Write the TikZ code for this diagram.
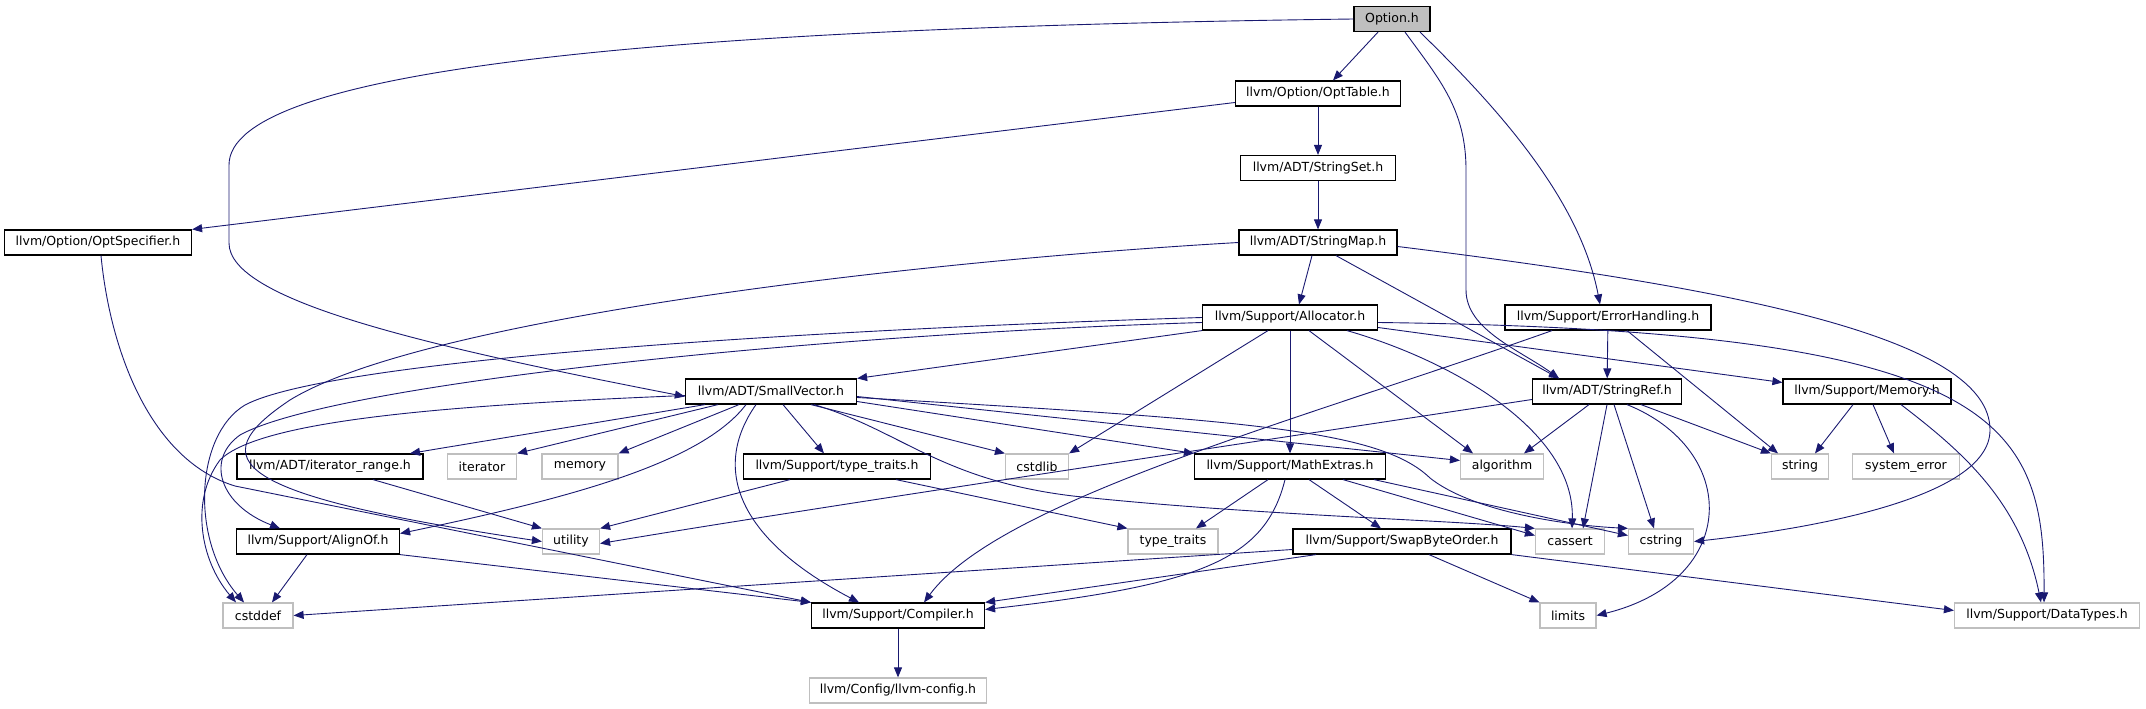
\documentclass[tikz,border=0pt]{standalone}
\usepackage{fontspec}
\setmainfont{DejaVu Sans}
\usetikzlibrary{arrows.meta}
\definecolor{midnight}{HTML}{191970}
\definecolor{grey75}{HTML}{BFBFBF}
\tikzset{
  hdrbox/.style={
    rectangle, draw=black, fill=white, line width=1.2pt,
    minimum width=#1, minimum height=25pt, inner sep=0pt,
    font=\fontsize{12.5}{14}\selectfont
  },
  hdrbox/.default=150pt,
  sysbox/.style={hdrbox=#1, draw=grey75},
  sysbox/.default=60pt,
  rootbox/.style={hdrbox=#1, fill=grey75},
  rootbox/.default=76pt,
  incarrow/.style={
    -{Triangle[length=10pt,width=8pt]}, line width=0.9pt, color=midnight
  },
}

\begin{document}
\begin{tikzpicture}[x=1pt, y=-1pt]
  \useasboundingbox (0,0) rectangle (2146,709);

  % Top of the chain
  \node[rootbox] at (1392,19) (opt) {Option.h};
  \node[hdrbox=165pt] at (1318,93.5) (opttable) {llvm/Option/OptTable.h};
  \node[hdrbox=155pt] at (1318,168) (stringset) {llvm/ADT/StringSet.h};
  \node[hdrbox=187pt] at (98,242.5) (optspec) {llvm/Option/OptSpecifier.h};
  \node[hdrbox=158pt] at (1318,242.5) (stringmap) {llvm/ADT/StringMap.h};
  \node[hdrbox=175pt] at (1290,317.5) (alloc) {llvm/Support/Allocator.h};
  \node[hdrbox=206pt] at (1608,317.5) (errhand) {llvm/Support/ErrorHandling.h};
  \node[hdrbox=171pt] at (771,391.5) (smallvec) {llvm/ADT/SmallVector.h};
  \node[hdrbox=149pt] at (1607,391.5) (stringref) {llvm/ADT/StringRef.h};
  \node[hdrbox=168pt] at (1867,391.5) (memoryh) {llvm/Support/Memory.h};

  % Row under SmallVector
  \node[hdrbox=186pt] at (330,466.5) (iterrange) {llvm/ADT/iterator\_range.h};
  \node[sysbox=69pt] at (482,466.5) (iterator) {iterator};
  \node[sysbox=76pt] at (580,466.5) (memory) {memory};
  \node[hdrbox=187pt] at (837,466.5) (typetraitsh) {llvm/Support/type\_traits.h};
  \node[sysbox=63pt] at (1037,466.5) (cstdlib) {cstdlib};
  \node[hdrbox=191pt] at (1290,466.5) (mathext) {llvm/Support/MathExtras.h};
  \node[sysbox=83pt] at (1502,466.5) (algorithm) {algorithm};
  \node[sysbox=57pt] at (1800,466.5) (string) {string};
  \node[sysbox=107pt] at (1906,466.5) (syserr) {system\_error};

  \node[hdrbox=163pt] at (318,541.5) (alignof) {llvm/Support/AlignOf.h};
  \node[sysbox=57pt] at (571,541.5) (utility) {utility};
  \node[sysbox=90pt] at (1173,541.5) (typetraits) {type\_traits};
  \node[hdrbox=218pt] at (1402,541.5) (swapbyte) {llvm/Support/SwapByteOrder.h};
  \node[sysbox=69pt] at (1570,541.5) (cassert) {cassert};
  \node[sysbox=65pt] at (1661,541.5) (cstring) {cstring};

  % Bottom rows
  \node[sysbox=70pt] at (258,615.5) (cstddef) {cstddef};
  \node[hdrbox=173pt] at (898,615.5) (compiler) {llvm/Support/Compiler.h};
  \node[sysbox=56pt] at (1568,615.5) (limits) {limits};
  \node[sysbox=185pt] at (2047,615.5) (datatypes) {llvm/Support/DataTypes.h};
  \node[sysbox=177pt] at (898,690.5) (llvmconfig) {llvm/Config/llvm-config.h};

  % Option.h
  \draw[incarrow] ([xshift=-14pt]opt.south) -- ([xshift=15pt]opttable.north);
  \draw[incarrow] (opt.west) .. controls (650,28) and (229,70) .. (229,165) -- (229,243)
    .. controls (229,300) and (420,345) .. ([yshift=-5pt]smallvec.west);
  \draw[incarrow] ([xshift=13pt]opt.south) .. controls (1440,80) and (1466,110) .. (1466,170)
    -- (1466,290) .. controls (1466,330) and (1520,350) .. ([xshift=-48pt]stringref.north);
  \draw[incarrow] ([xshift=28pt]opt.south) .. controls (1500,110) and (1580,200) .. ([xshift=-8pt]errhand.north);

  % OptTable.h, StringSet.h, StringMap.h
  \draw[incarrow] (opttable) -- (stringset);
  \draw[incarrow] ([yshift=-9pt]opttable.west) -- (optspec.north east);
  \draw[incarrow] (stringset) -- (stringmap);
  \draw[incarrow] ([xshift=-6pt]stringmap.south) -- ([xshift=9pt]alloc.north);
  \draw[incarrow] ([xshift=18pt]stringmap.south) -- ([xshift=-48pt]stringref.north);
  \draw[incarrow] ([yshift=-4pt]stringmap.east) .. controls (1750,290) and (1990,340) .. (1990,430)
    .. controls (1990,500) and (1800,530) .. (cstring.east);
  \draw[incarrow] (stringmap.west) .. controls (900,262) and (420,320) .. (290,400)
    .. controls (200,460) and (230,495) .. (utility.west);
  \draw[incarrow] ([xshift=3pt]optspec.south) .. controls (110,350) and (150,460) .. (235,486)
    -- (compiler.north west);

  % Allocator.h
  \draw[incarrow] (alloc.south west) -- (smallvec.north east);
  \draw[incarrow] (alloc.west) .. controls (800,330) and (330,360) .. (245,405)
    .. controls (195,435) and (190,540) .. ([xshift=-14pt]cstddef.north);
  \draw[incarrow] ([yshift=-5pt]alloc.west) .. controls (800,335) and (330,385) .. (240,435)
    .. controls (205,460) and (220,505) .. ([xshift=-38pt]alignof.north);
  \draw[incarrow] ([xshift=-22pt]alloc.south) -- (cstdlib.north east);
  \draw[incarrow] (alloc) -- (mathext);
  \draw[incarrow] ([xshift=19pt]alloc.south) -- ([xshift=-29pt]algorithm.north);
  \draw[incarrow] ([xshift=57pt]alloc.south) .. controls (1450,360) and (1575,430) .. ([xshift=2pt]cassert.north);
  \draw[incarrow] ([yshift=-10pt]alloc.east) -- ([yshift=9pt]memoryh.west);
  \draw[incarrow] ([yshift=-5pt]alloc.east) .. controls (2000,330) and (2045,420) .. ([xshift=-3pt]datatypes.north);

  % ErrorHandling.h
  \draw[incarrow] (errhand) -- (stringref);
  \draw[incarrow] ([xshift=19pt]errhand.south) -- ([xshift=-22pt]string.north);
  \draw[incarrow] ([xshift=-56pt]errhand.south) .. controls (1300,420) and (1000,500) .. ([xshift=26pt]compiler.north);

  % SmallVector.h
  \draw[incarrow] ([yshift=-4pt]smallvec.west) .. controls (450,405) and (260,420) .. (220,460)
    .. controls (190,500) and (200,560) .. ([xshift=-22pt]cstddef.north);
  \draw[incarrow] ([xshift=-66pt]smallvec.south) -- ([xshift=80pt]iterrange.north);
  \draw[incarrow] ([xshift=-53pt]smallvec.south) -- (iterator.north east);
  \draw[incarrow] ([xshift=-32pt]smallvec.south) -- (memory.north east);
  \draw[incarrow] ([xshift=-25pt]smallvec.south) .. controls (700,465) and (560,500) .. ([yshift=8pt]alignof.east);
  \draw[incarrow] ([xshift=-15pt]smallvec.south) .. controls (710,470) and (740,540) .. ([xshift=-39pt]compiler.north);
  \draw[incarrow] ([xshift=12pt]smallvec.south) -- ([xshift=-13pt]typetraitsh.north);
  \draw[incarrow] ([xshift=40pt]smallvec.south) -- (cstdlib.north west);
  \draw[incarrow] ([xshift=43pt]smallvec.south) .. controls (900,430) and (940,480) .. (1073,496)
    .. controls (1250,515) and (1450,520) .. (cassert.north west);
  \draw[incarrow] ([yshift=-10pt]smallvec.east) -- (mathext.north west);
  \draw[incarrow] ([yshift=-5pt]smallvec.east) -- ([yshift=6pt]algorithm.west);
  \draw[incarrow] ([yshift=-6pt]smallvec.east) .. controls (1250,420) and (1380,430) .. (1430,478)
    .. controls (1470,510) and (1560,525) .. (cstring.north west);

  % StringRef.h and Memory.h
  \draw[incarrow] ([yshift=-8pt]stringref.west) .. controls (1200,450) and (800,510) .. ([yshift=-2pt]utility.east);
  \draw[incarrow] ([xshift=-18pt]stringref.south) -- ([xshift=22pt]algorithm.north);
  \draw[incarrow] (stringref.south) -- ([xshift=13pt]cassert.north);
  \draw[incarrow] ([xshift=7pt]stringref.south) -- ([xshift=-7pt]cstring.north);
  \draw[incarrow] ([xshift=20pt]stringref.south) .. controls (1740,450) and (1740,580) .. (limits.east);
  \draw[incarrow] ([xshift=34pt]stringref.south) -- (string.north west);
  \draw[incarrow] ([xshift=-14pt]memoryh.south) -- ([xshift=15pt]string.north);
  \draw[incarrow] ([xshift=6pt]memoryh.south) -- ([xshift=-12pt]syserr.north);
  \draw[incarrow] ([xshift=34pt]memoryh.south) .. controls (1960,450) and (2020,500) .. ([xshift=-6pt]datatypes.north);

  % Third row
  \draw[incarrow] ([xshift=43pt]iterrange.south) -- (utility.north west);
  \draw[incarrow] ([xshift=-47pt]typetraitsh.south) -- (utility.north east);
  \draw[incarrow] ([xshift=59pt]typetraitsh.south) -- (typetraits.north west);
  \draw[incarrow] ([xshift=-22pt]mathext.south) -- ([xshift=23pt]typetraits.north);
  \draw[incarrow] ([xshift=19pt]mathext.south) -- ([xshift=-21pt]swapbyte.north);
  \draw[incarrow] ([xshift=53pt]mathext.south) -- ([yshift=6pt]cassert.west);
  \draw[incarrow] ([xshift=84pt]mathext.south) -- ([yshift=6pt]cstring.west);
  \draw[incarrow] ([xshift=-5pt]mathext.south) .. controls (1265,560) and (1200,585) .. ([yshift=6pt]compiler.east);

  % Fourth row
  \draw[incarrow] ([xshift=-11pt]alignof.south) -- ([xshift=14pt]cstddef.north);
  \draw[incarrow] (alignof.south east) -- (compiler.north west);
  \draw[incarrow] ([yshift=-8pt]swapbyte.west) -- (cstddef.east);
  \draw[incarrow] ([xshift=-86pt]swapbyte.south) -- (compiler.north east);
  \draw[incarrow] ([xshift=27pt]swapbyte.south) -- (limits.north west);
  \draw[incarrow] (swapbyte.south east) -- ([yshift=5pt]datatypes.west);
  \draw[incarrow] (compiler) -- (llvmconfig);
\end{tikzpicture}
\end{document}
